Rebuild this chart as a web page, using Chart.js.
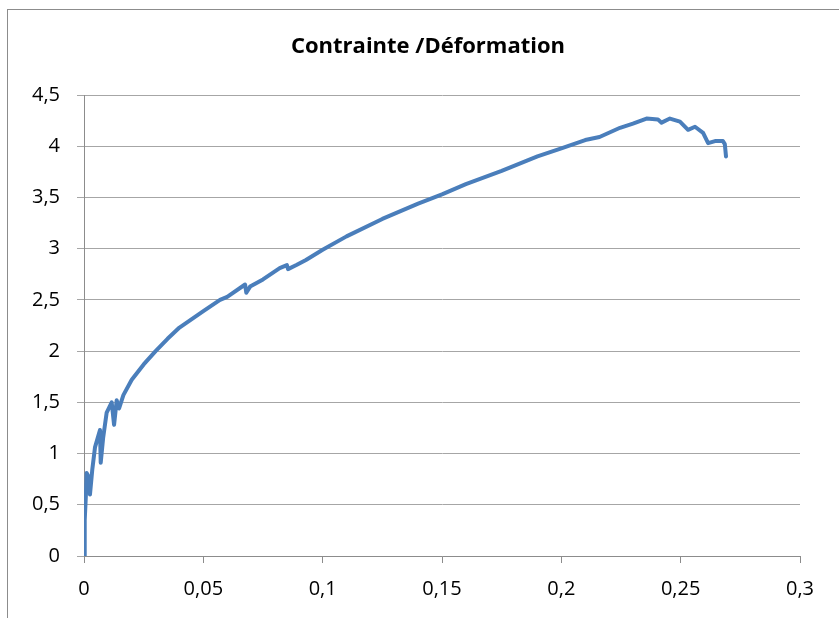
<!DOCTYPE html>
<html>
<head>
<meta charset="utf-8">
<script src="https://cdn.jsdelivr.net/npm/chart.js@4/dist/chart.umd.min.js"></script>
<style>
  html, body { margin: 0; padding: 0; background: #fff; }
  #wrap { position: relative; width: 839px; height: 618px; overflow: hidden; }
  #frame { position: absolute; left: 7px; top: 9px; width: 900px; height: 700px;
    border-left: 1px solid #8c8c8c; border-top: 1px solid #8c8c8c; }
  canvas { position: absolute; left: 0; top: 0; }
</style>
</head>
<body>
<div id="wrap">
  <div id="frame"></div>
  <canvas id="chart" width="839" height="618"></canvas>
</div>
<script>
// Contrainte / Déformation
const TITLE = 'Contrainte /Déformation';
const deformation = [0, 0.0003, 0.0008, 0.0011, 0.0018, 0.0025, 0.0035, 0.0046, 0.0067, 0.0070,
  0.0080, 0.0095, 0.0116, 0.0126, 0.0137, 0.0147, 0.0165, 0.020, 0.025, 0.030,
  0.035, 0.040, 0.050, 0.057, 0.060, 0.0675, 0.068, 0.0696, 0.075, 0.082,
  0.085, 0.0855, 0.089, 0.093, 0.100, 0.110, 0.125, 0.140, 0.150, 0.160,
  0.175, 0.190, 0.200, 0.210, 0.216, 0.2246, 0.230, 0.2357, 0.2405, 0.242,
  0.2455, 0.2497, 0.2531, 0.256, 0.2594, 0.2615, 0.2644, 0.2677, 0.2685, 0.269];
const contrainte = [0, 0.35, 0.6, 0.81, 0.78, 0.6, 0.85, 1.06, 1.23, 0.91,
  1.15, 1.40, 1.5, 1.28, 1.52, 1.44, 1.57, 1.72, 1.87, 2.0,
  2.12, 2.23, 2.39, 2.50, 2.53, 2.65, 2.57, 2.63, 2.7, 2.81,
  2.84, 2.80, 2.84, 2.89, 2.99, 3.12, 3.29, 3.44, 3.53, 3.63,
  3.76, 3.9, 3.98, 4.06, 4.09, 4.18, 4.22, 4.27, 4.26, 4.23,
  4.27, 4.24, 4.16, 4.19, 4.13, 4.03, 4.05, 4.05, 4.02, 3.9];
const xTicks = [0, 0.05, 0.1, 0.15, 0.2, 0.25, 0.3];
const yTicks = [0, 0.5, 1, 1.5, 2, 2.5, 3, 3.5, 4, 4.5];

const FONT = "'Open Sans', sans-serif";
const fmt = v => String(+v.toFixed(2)).replace('.', ',');

const titlePlugin = {
  id: 'excelTitle',
  afterDraw(chart) {
    const c = chart.ctx;
    c.save();
    c.fillStyle = '#000';
    c.font = `bold 22px ${FONT}`;
    c.textAlign = 'center';
    c.textBaseline = 'middle';
    c.fillText(TITLE, 428, 47);
    c.restore();
  }
};

new Chart(document.getElementById('chart'), {
  type: 'scatter',
  data: {
    datasets: [{
      data: deformation.map((x, i) => ({ x, y: contrainte[i] })),
      showLine: true, borderColor: '#4a7ebb', borderWidth: 4,
      pointRadius: 0, tension: 0, borderCapStyle: 'round', borderJoinStyle: 'round'
    }]
  },
  options: {
    responsive: false, animation: false,
    layout: { padding: { top: 95, right: 39, bottom: 0, left: 0 } },
    plugins: { legend: { display: false }, tooltip: { enabled: false } },
    scales: {
      x: {
        type: 'linear', min: 0, max: 0.3,
        afterBuildTicks: s => { s.ticks = xTicks.map(value => ({ value })); },
        afterFit: s => { s.height = 62; },
        grid: { drawOnChartArea: false, drawTicks: true, tickLength: 7, color: '#8c8c8c' },
        border: { color: '#8c8c8c' },
        ticks: { color: '#000', font: { family: FONT, size: 20 }, padding: 14, callback: fmt, maxRotation: 0 }
      },
      y: {
        type: 'linear', min: 0, max: 4.5,
        afterBuildTicks: s => { s.ticks = yTicks.map(value => ({ value })); },
        afterFit: s => { s.width = 84; },
        grid: { color: '#a6a6a6', tickLength: 7 },
        border: { color: '#8c8c8c' },
        ticks: { color: '#000', font: { family: FONT, size: 20 }, padding: 17, callback: fmt }
      }
    }
  },
  plugins: [titlePlugin]
});
</script>
</body>
</html>
